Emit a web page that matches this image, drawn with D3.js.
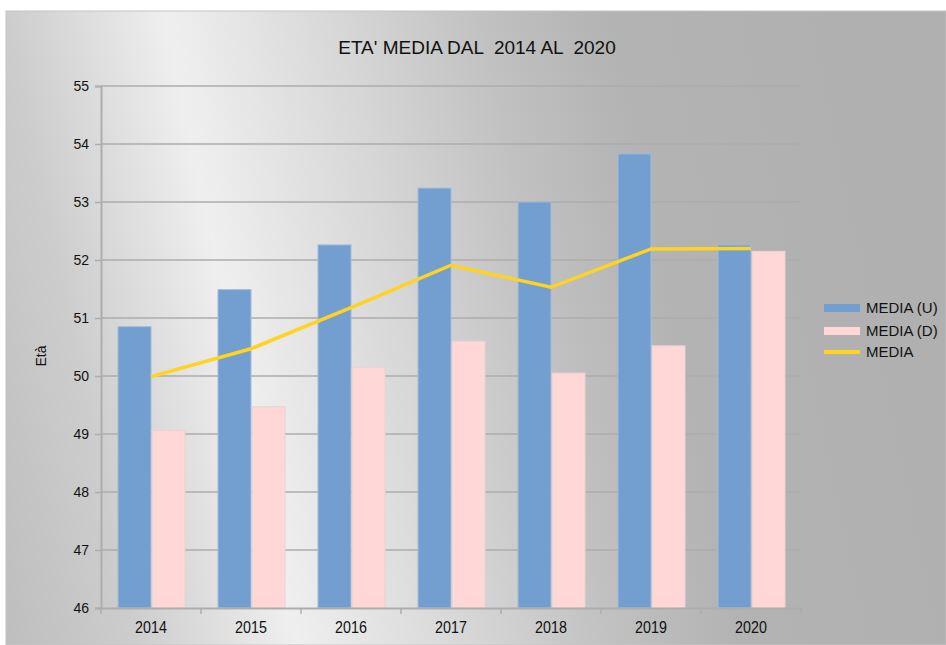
<!DOCTYPE html>
<html>
<head>
<meta charset="utf-8">
<script src="https://cdn.jsdelivr.net/npm/d3@7"></script>
<style>
  body { margin: 0; background: #fff; }
  text { font-family: "Liberation Sans", Arial, sans-serif; fill: #111; }
</style>
</head>
<body>
<svg id="chart" width="946" height="645"></svg>
<script>
// data
const years = ["2014", "2015", "2016", "2017", "2018", "2019", "2020"];
const mediaU = [50.85, 51.49, 52.26, 53.24, 53.0, 53.83, 52.26];
const mediaD = [49.06, 49.47, 50.15, 50.6, 50.05, 50.52, 52.15];
const media = [49.99, 50.47, 51.18, 51.91, 51.53, 52.19, 52.2];
const yTicks = [46, 47, 48, 49, 50, 51, 52, 53, 54, 55];
const seriesNames = ["MEDIA (U)", "MEDIA (D)", "MEDIA"];

const colors = { u: "#729fcf", d: "#ffd7d7", line: "#ffd320" };

const svg = d3.select("#chart");

// background gradient like the spreadsheet chart area (bright band tilted)
const defs = svg.append("defs");
const grad = defs.append("linearGradient")
    .attr("id", "bg")
    .attr("gradientUnits", "userSpaceOnUse")
    .attr("x1", 0).attr("y1", 645)
    .attr("x2", 946).attr("y2", 451);
[[0, "#bdbdbd"], [0.14, "#cdcdcd"], [0.3, "#efefef"], [0.48, "#d6d6d6"],
 [0.62, "#c1c1c1"], [0.75, "#b3b3b3"], [1, "#b0b0b0"]].forEach(s => {
    grad.append("stop").attr("offset", s[0]).attr("stop-color", s[1]);
});

svg.append("rect")
    .attr("x", 6).attr("y", 11)
    .attr("width", 946 - 6).attr("height", 645 - 11)
    .attr("fill", "url(#bg)")
    .attr("stroke", "#c4c4c4");

const plotLeft = 101, plotRight = 801, plotTop = 86, plotBottom = 608;

const x = d3.scaleBand().domain(years).range([plotLeft, plotRight]).paddingInner(0).paddingOuter(0);
const y = d3.scaleLinear().domain([46, 55]).range([plotBottom, plotTop]);
const barW = 33;

// gridlines
svg.append("g")
    .selectAll("line")
    .data(yTicks.filter(d => d > 46))
    .join("line")
    .attr("x1", plotLeft).attr("x2", plotRight)
    .attr("y1", d => y(d)).attr("y2", d => y(d))
    .attr("stroke", "#adadad")
    .attr("stroke-width", 1.5);

// y axis
const yAxis = svg.append("g")
    .attr("transform", `translate(${plotLeft},0)`)
    .call(d3.axisLeft(y).tickValues(yTicks).tickSize(6).tickPadding(6).tickFormat(d3.format("d")));
yAxis.select(".domain").attr("stroke", "#adadad").attr("stroke-width", 2);
yAxis.selectAll(".tick line").attr("stroke", "#adadad").attr("stroke-width", 1.5);
yAxis.selectAll(".tick text")
    .attr("font-size", 14)
    .attr("font-family", "Liberation Sans, Arial, sans-serif")
    .attr("fill", "#111");

// bars
const groups = svg.append("g")
    .selectAll("g")
    .data(years)
    .join("g")
    .attr("transform", d => `translate(${x(d) + x.bandwidth() / 2},0)`);

groups.append("rect")
    .attr("x", -barW)
    .attr("width", barW)
    .attr("y", (d, i) => y(mediaU[i]))
    .attr("height", (d, i) => plotBottom - y(mediaU[i]))
    .attr("fill", colors.u)
    .attr("stroke", "#9fbcdc")
    .attr("stroke-width", 1);

groups.append("rect")
    .attr("x", 1)
    .attr("width", barW)
    .attr("y", (d, i) => y(mediaD[i]))
    .attr("height", (d, i) => plotBottom - y(mediaD[i]))
    .attr("fill", colors.d)
    .attr("stroke", "#e8d2d2")
    .attr("stroke-width", 1);

// x axis
const xAxis = svg.append("g")
    .attr("transform", `translate(0,${plotBottom})`)
    .call(d3.axisBottom(x).tickSize(0).tickPadding(13));
xAxis.select(".domain").attr("stroke", "#adadad").attr("stroke-width", 2);
xAxis.selectAll(".tick text")
    .attr("font-size", 17)
    .attr("transform", "scale(0.84,1)")
    .attr("font-family", "Liberation Sans, Arial, sans-serif")
    .attr("fill", "#111");
svg.append("g")
    .selectAll("line")
    .data(years.concat(["end"]))
    .join("line")
    .attr("x1", (d, i) => plotLeft + i * x.bandwidth())
    .attr("x2", (d, i) => plotLeft + i * x.bandwidth())
    .attr("y1", plotBottom).attr("y2", plotBottom + 6)
    .attr("stroke", "#adadad")
    .attr("stroke-width", 1.5);

// average line
const line = d3.line()
    .x((d, i) => x(years[i]) + x.bandwidth() / 2)
    .y(d => y(d));
svg.append("path")
    .datum(media)
    .attr("d", line)
    .attr("fill", "none")
    .attr("stroke", colors.line)
    .attr("stroke-width", 3.5);

// title
svg.append("text")
    .attr("x", 477).attr("y", 54)
    .attr("text-anchor", "middle")
    .attr("font-size", 19)
    .style("white-space", "pre")
    .text("ETA' MEDIA DAL  2014 AL  2020");

// y axis title
svg.append("text")
    .attr("transform", "translate(46,356) rotate(-90)")
    .attr("text-anchor", "middle")
    .attr("font-size", 14)
    .text("Età");

// legend
const legend = svg.append("g").attr("transform", "translate(824,0)");
const legendY = [308, 331, 352];
legend.append("rect").attr("x", 0).attr("y", legendY[0] - 4).attr("width", 36).attr("height", 8).attr("fill", colors.u);
legend.append("rect").attr("x", 0).attr("y", legendY[1] - 4).attr("width", 36).attr("height", 8).attr("fill", colors.d);
legend.append("line").attr("x1", 0).attr("x2", 36).attr("y1", legendY[2]).attr("y2", legendY[2])
    .attr("stroke", colors.line).attr("stroke-width", 4);
legend.selectAll("text.lg")
    .data(seriesNames)
    .join("text")
    .attr("class", "lg")
    .attr("x", 42)
    .attr("y", (d, i) => legendY[i] + 5)
    .attr("font-size", 15)
    .text(d => d);
</script>
</body>
</html>
